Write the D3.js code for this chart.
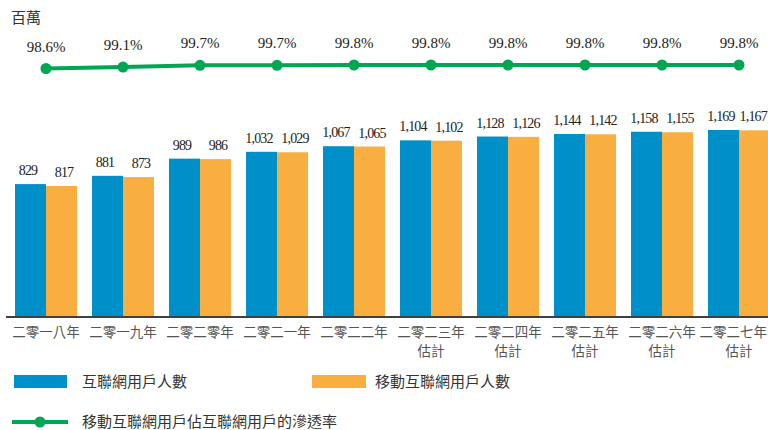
<!doctype html>
<html>
<head>
<meta charset="utf-8">
<style>
  body { margin: 0; background: #fff; }
  svg text { font-family: "Liberation Serif", "Times New Roman", serif; }
  .cjk { font-family: "Noto Sans CJK TC", "Noto Sans CJK SC", sans-serif; }
</style>
<script src="https://d3js.org/d3.v7.min.js"></script>
</head>
<body>
<svg width="768" height="430"></svg>
<script>
var years = ["二零一八年", "二零一九年", "二零二零年", "二零二一年", "二零二二年",
             "二零二三年", "二零二四年", "二零二五年", "二零二六年", "二零二七年"];
var estimated = [false, false, false, false, false, true, true, true, true, true];
var internetUsers = [829, 881, 989, 1032, 1067, 1104, 1128, 1144, 1158, 1169];
var mobileUsers = [817, 873, 986, 1029, 1065, 1102, 1126, 1142, 1155, 1167];
var penetration = [98.6, 99.1, 99.7, 99.7, 99.8, 99.8, 99.8, 99.8, 99.8, 99.8];

var blue = "#0090c9", orange = "#f9ae41", green = "#00a651";

var svg = d3.select("svg");
var width = +svg.attr("width");
var baseY = 316;

var x = d3.scaleBand().domain(years).range([7.5, 777.5]).padding(0);
var groupW = 62;
var xs = d3.scaleBand().domain(["a", "b"]).range([0, groupW]);
var y = d3.scaleLinear().domain([0, 1169]).range([baseY, 130]);
var yp = d3.scaleLinear().domain([98.6, 99.8]).range([68.5, 65]);

function gx(d) { return x(d) + (x.step() - groupW) / 2; }

// keep centred texts inside the right edge
function keepInside(sel, offset) {
  sel.each(function() {
    var el = d3.select(this);
    var w = this.getComputedTextLength();
    var ox = +el.attr("x") + (offset || 0);
    if (ox + w / 2 > width - 1) {
      var nx = +el.attr("x") - (ox + w / 2 - (width - 1));
      el.attr("x", nx);
      el.selectAll("tspan").attr("x", nx);
    }
  });
}

// unit label
svg.append("text").attr("class", "cjk").attr("x", 11).attr("y", 23)
  .style("font-size", "15px").style("fill", "#333").text("百萬");

// bars
var groups = svg.append("g").selectAll("g").data(years).enter().append("g")
  .attr("transform", function(d) { return "translate(" + gx(d) + ",0)"; });

groups.append("rect").attr("x", xs("a")).attr("width", xs.bandwidth())
  .attr("y", function(d, i) { return y(internetUsers[i]); })
  .attr("height", function(d, i) { return baseY - y(internetUsers[i]); })
  .style("fill", blue);
groups.append("rect").attr("x", xs("b")).attr("width", xs.bandwidth())
  .attr("y", function(d, i) { return y(mobileUsers[i]); })
  .attr("height", function(d, i) { return baseY - y(mobileUsers[i]); })
  .style("fill", orange);

var fmt = d3.format(",");
// labels sit a little outward from their bar centres
function valueLabel(key, vals, nudge) {
  return groups.append("text").attr("x", xs(key) + xs.bandwidth() / 2 + nudge)
    .attr("y", function(d, i) { return y(vals[i]) - 9; })
    .attr("text-anchor", "middle").style("font-size", "14px")
    .style("letter-spacing", "-0.8px").style("fill", "#222")
    .text(function(d, i) { return fmt(vals[i]); });
}
valueLabel("a", internetUsers, -2.5);
valueLabel("b", mobileUsers, 2.5).each(function(d) {
  keepInside(d3.select(this), gx(d));
});

// axis
svg.append("line").attr("x1", 6).attr("x2", width).attr("y1", baseY + 1).attr("y2", baseY + 1)
  .style("stroke", "#404040").style("stroke-width", 2);

var labels = svg.append("g").selectAll("text").data(years).enter().append("text")
  .attr("class", "cjk").attr("text-anchor", "middle")
  .attr("x", function(d) { return x(d) + x.step() / 2; })
  .attr("y", 337).style("font-size", "13.5px").style("fill", "#555");
labels.append("tspan").text(function(d) { return d; });
labels.filter(function(d, i) { return estimated[i]; }).append("tspan")
  .attr("x", function(d) { return x(d) + x.step() / 2; }).attr("dy", 19).text("估計");
labels.each(function() {
  var el = d3.select(this);
  var w = el.select("tspan").node().getComputedTextLength();
  var cxv = +el.attr("x");
  if (cxv + w / 2 > width - 1) {
    var nx = width - 1 - w / 2;
    el.attr("x", nx);
    el.selectAll("tspan").filter(function(d, i) { return i === 0; }).attr("x", nx);
  }
});

// penetration line
var cx = function(d, i) { return x(years[i]) + x.step() / 2; };
svg.append("path").datum(penetration)
  .attr("d", d3.line().x(cx).y(function(d) { return yp(d); }))
  .style("fill", "none").style("stroke", green).style("stroke-width", 4);
svg.append("g").selectAll("circle").data(penetration).enter().append("circle")
  .attr("cx", cx).attr("cy", function(d) { return yp(d); }).attr("r", 5.5).style("fill", green);
svg.append("g").selectAll("text").data(penetration).enter().append("text")
  .attr("x", cx).attr("y", function(d) { return yp(d) - 17; })
  .attr("text-anchor", "middle").style("font-size", "15px").style("fill", "#222")
  .text(function(d) { return d.toFixed(1) + "%"; });

// legend
var lg = svg.append("g");
lg.append("rect").attr("x", 14).attr("y", 375).attr("width", 53).attr("height", 13).style("fill", blue);
lg.append("text").attr("class", "cjk").attr("x", 82).attr("y", 387).style("font-size", "15px")
  .style("fill", "#333").text("互聯網用戶人數");
lg.append("rect").attr("x", 312).attr("y", 375).attr("width", 54).attr("height", 13).style("fill", orange);
lg.append("text").attr("class", "cjk").attr("x", 375).attr("y", 387).style("font-size", "15px")
  .style("fill", "#333").text("移動互聯網用戶人數");
lg.append("line").attr("x1", 12).attr("x2", 68).attr("y1", 422).attr("y2", 422)
  .style("stroke", green).style("stroke-width", 4);
lg.append("circle").attr("cx", 40).attr("cy", 422).attr("r", 5.5).style("fill", green);
lg.append("text").attr("class", "cjk").attr("x", 82).attr("y", 427).style("font-size", "15px")
  .style("fill", "#333").text("移動互聯網用戶佔互聯網用戶的滲透率");
</script>
</body>
</html>
